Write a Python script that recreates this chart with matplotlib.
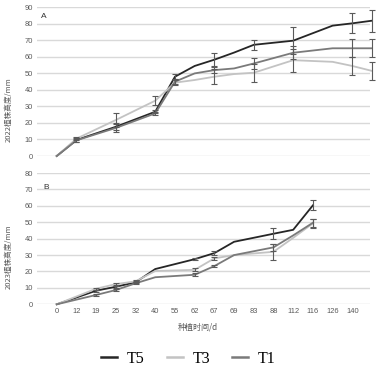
import numpy as np
import matplotlib
matplotlib.use("Agg")
import matplotlib.pyplot as plt

plt.rcParams['font.family'] = ['Liberation Sans', 'Noto Sans CJK SC', 'DejaVu Sans']

# x tick labels (days), shared bottom axis
days = ["0", "12", "19", "25", "32", "40", "55", "62", "67", "69",
        "83", "88", "112", "116", "126", "140"]

# panel A (2022) - positions on the category axis
a_x = [0, 1, 3, 5, 6, 7, 8, 9, 10, 12, 14, 15, 16]
a_t5 = [0, 9.7, 17.7, 26.8, 48, 54.5, 58.3, 62.6, 67.3, 69.8, 78.9, 80.3, 81.9]
a_t3 = [0, 10.5, 21.8, 33.5, 44.4, 46, 48, 49.6, 50.4, 58, 57, 54.5, 51.5]
a_t1 = [0, 9.5, 17, 25.8, 45, 50, 52, 53, 56, 62.5, 65.2, 65.2, 65.2]
a_t5_err = [0, 1, 2, 1, 1.5, 0, 4, 0, 3.2, 8, 0, 6, 6.7]
a_t3_err = [0, 1, 4, 2.7, 1.5, 0, 4.5, 0, 5.4, 7, 0, 5.5, 5.5]
a_t1_err = [0, 1, 2.5, 1, 1.5, 0, 1.6, 0, 3.6, 4, 0, 5.5, 5.5]

# panel B (2023)
b_x = [0, 2, 3, 4, 5, 7, 8, 9, 11, 12, 13]
b_t5 = [0, 8.3, 10.7, 13.4, 21.5, 27.5, 31.2, 38.1, 43, 45.4, 60.3]
b_t3 = [0, 9.5, 12.3, 14, 20.3, 21, 28, 30, 32, 40.5, 49.3]
b_t1 = [0, 5.7, 8.7, 12.8, 16.5, 18, 23.3, 30, 34.7, 42, 49.7]
b_t5_err = [0, 0.7, 0.7, 0.7, 0, 0.8, 1, 0, 3.3, 0, 3]
b_t3_err = [0, 0.7, 0.7, 0.7, 0, 1, 1, 0, 5, 0, 2.5]
b_t1_err = [0, 0.7, 0.7, 0.7, 0, 1, 0.8, 0, 2, 0, 2.5]

names = ["T5", "T3", "T1"]
colors = ["#262626", "#c3c3c3", "#7a7a7a"]
errc = "#5a5a5a"
grid_c = "#d9d9d9"
txt_c = "#595959"

fig = plt.figure(figsize=(3.77, 3.69), dpi=100)
axA = fig.add_axes([0.099, 0.5772, 0.8825, 0.403])
axB = fig.add_axes([0.099, 0.1753, 0.8825, 0.3558])


def draw(ax, x, series, errs, ymax):
    x = np.array(x, dtype=float)
    for y, e, c, n in zip(series, errs, colors, names):
        y = np.array(y, dtype=float)
        e = np.array(e, dtype=float)
        ax.plot(x, y, color=c, lw=1.3, label=n, clip_on=False, zorder=3)
        m = e > 0
        ax.errorbar(x[m], y[m], yerr=e[m], fmt='none', ecolor=errc,
                    elinewidth=0.8, capsize=2, capthick=0.8, clip_on=False, zorder=4)
    ax.set_xlim(-0.985, 15.9)
    ax.set_ylim(0, ymax)
    ax.set_yticks(np.arange(0, ymax + 1, 10))
    ax.grid(axis='y', color=grid_c, lw=1)
    ax.set_axisbelow(True)
    for s in ax.spines.values():
        s.set_visible(False)
    ax.tick_params(length=0, labelsize=5.4, labelcolor=txt_c, pad=3)


draw(axA, a_x, [a_t5, a_t3, a_t1], [a_t5_err, a_t3_err, a_t1_err], 90)
draw(axB, b_x, [b_t5, b_t3, b_t1], [b_t5_err, b_t3_err, b_t1_err], 80)

axA.set_xticks([])
axB.set_xticks(range(len(days)))
axB.set_xticklabels(days)

axA.text(0.012, 0.925, "A", transform=axA.transAxes, fontsize=6, color="#333333")
axB.text(0.018, 0.88, "B", transform=axB.transAxes, fontsize=6, color="#333333")

fig.text(0.024, 1 - 110 / 369, "2022植株高度/mm", rotation=90, ha='center', va='center',
         fontsize=5.5, color=txt_c, family=['Noto Sans CJK SC', 'DejaVu Sans'])
fig.text(0.024, 1 - 257 / 369, "2023植株高度/mm", rotation=90, ha='center', va='center',
         fontsize=5.5, color=txt_c, family=['Noto Sans CJK SC', 'DejaVu Sans'])
fig.text(198 / 377, 1 - 327 / 369, "种植时间/d", ha='center', va='center',
         fontsize=5.8, color=txt_c, family=['Noto Sans CJK SC', 'DejaVu Sans'])

h, l = axA.get_legend_handles_labels()
leg = fig.legend(h, l, loc='center', bbox_to_anchor=(0.5, 1 - 359 / 369), ncol=3,
                 frameon=False, handlelength=1.0, handletextpad=0.6, columnspacing=1.4,
                 prop={'family': 'Liberation Serif', 'size': 11.5})
for line in leg.get_lines():
    line.set_linewidth(1.8)

fig.savefig("out.png", dpi=100)
